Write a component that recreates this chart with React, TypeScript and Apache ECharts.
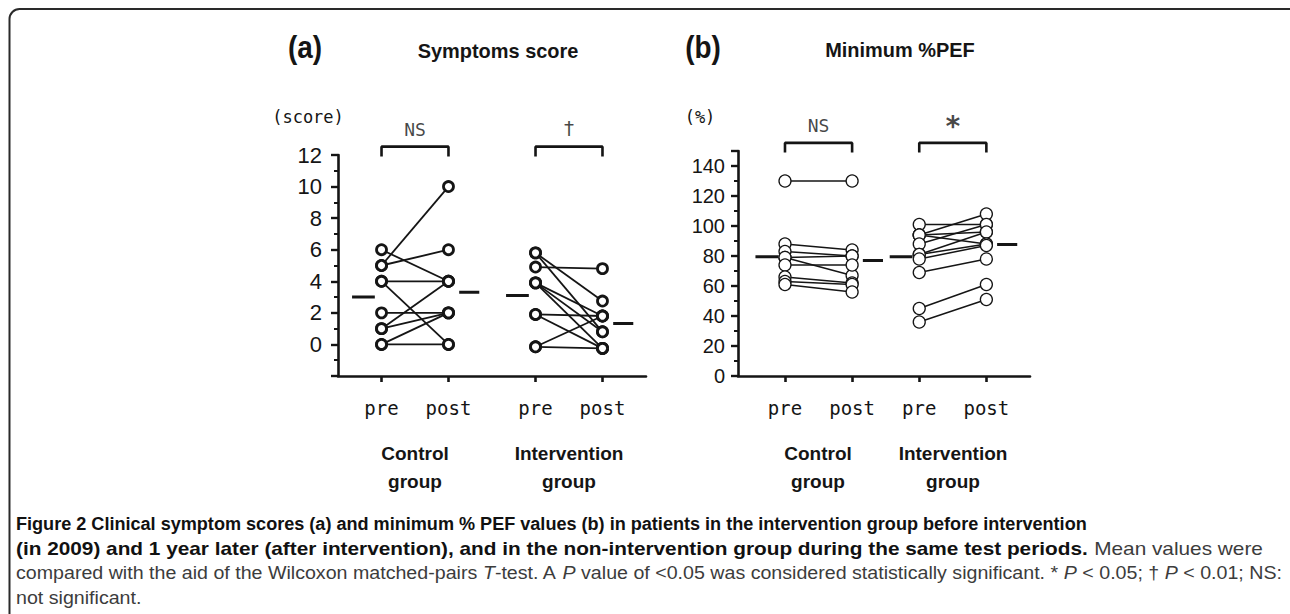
import React, { useEffect, useRef } from "react";
import * as echarts from "echarts";

// ---------- data ----------
const phaseLabels = ["pre", "post", "pre", "post"];
const groupLabels = ["Control\ngroup", "Intervention\ngroup"];

// (a) Symptoms score: paired values per patient (pre -> post)
const scoreCtrlPre = [5, 5, 6, 4, 4, 2, 1, 1, 0, 0];
const scoreCtrlPost = [10, 6, 4, 4, 0, 2, 4, 2, 2, 0];
const scoreIntPre = [4.9, 5.8, 5.8, 3.9, 3.9, 3.9, 1.9, 1.9, -0.15, -0.15];
const scoreIntPost = [4.8, 2.75, 0.8, 1.8, 0.8, -0.25, 1.8, -0.25, 1.8, -0.25];
const scoreMeans = [3.0, 3.3, 3.1, 1.33]; // ctrl pre, ctrl post, int pre, int post
const scoreSig = ["NS", "†"];

// (b) Minimum %PEF
const pefCtrlPre = [130, 88, 83, 79, 79, 74, 66, 63, 61];
const pefCtrlPost = [130, 84, 80, 80, 67, 74, 62, 61, 56];
const pefIntPre = [101, 94, 94, 94, 88, 81, 81, 78, 69, 45, 36];
const pefIntPost = [101, 108, 88, 96, 101, 96, 88, 87, 78, 61, 51];
const pefMeans = [79.5, 77, 79.5, 87.7];
const pefSig = ["NS", "*"];

const captionLines = [
  [{ t: "Figure 2 Clinical symptom scores (a) and minimum % PEF values (b) in patients in the intervention group before intervention", s: "b" }],
  [
    { t: "(in 2009) and 1 year later (after intervention), and in the non-intervention group during the same test periods.", s: "b" },
    { t: " Mean values were", s: "n" },
  ],
  [
    { t: "compared with the aid of the Wilcoxon matched-pairs ", s: "n" },
    { t: "T", s: "i" },
    { t: "-test. A ", s: "n" },
    { t: "P", s: "i" },
    { t: " value of <0.05 was considered statistically significant. * ", s: "n" },
    { t: "P", s: "i" },
    { t: " < 0.05; † ", s: "n" },
    { t: "P", s: "i" },
    { t: " < 0.01; NS:", s: "n" },
  ],
  [{ t: "not significant.", s: "n" }],
];

// ---------- layout constants ----------
const SCORE_POS = [1, 2, 3.3, 4.3];
const PEF_POS = [1, 2, 3, 4];
const INK = "#151515";
const MONO = "'DejaVu Sans Mono', 'Liberation Mono', monospace";
const SANS = "'Liberation Sans', Arial, sans-serif";
const CAP_FONT = "'Liberation Sans', sans-serif";

function buildPanel(
  idx: number,
  pos: number[],
  ctrlPre: number[],
  ctrlPost: number[],
  intPre: number[],
  intPost: number[],
  means: number[],
  sig: string[],
  bracketLow: number,
  bracketHigh: number,
  st: { lw: number; sym: number; bw: number; sigSize: number[]; sigDist: number[] }
) {
  const series: any[] = [];
  const groups: [number[], number[], number, number][] = [
    [ctrlPre, ctrlPost, pos[0], pos[1]],
    [intPre, intPost, pos[2], pos[3]],
  ];
  const common = { xAxisIndex: idx, yAxisIndex: idx, silent: true, animation: false };
  groups.forEach(([pre, post, xa, xb]) => {
    pre.forEach((v, i) => {
      series.push({
        ...common,
        type: "line",
        data: [
          [xa, v],
          [xb, post[i]],
        ],
        symbol: "none",
        lineStyle: { color: INK, width: st.lw },
        z: 2,
      });
    });
  });
  const pts: number[][] = [];
  groups.forEach(([pre, post, xa, xb]) => {
    pre.forEach((v) => pts.push([xa, v]));
    post.forEach((v) => pts.push([xb, v]));
  });
  series.push({
    ...common,
    type: "scatter",
    data: pts,
    symbol: "circle",
    symbolSize: st.sym,
    itemStyle: { color: "#ffffff", borderColor: INK, borderWidth: st.bw, opacity: 1 },
    z: 4,
  });
  means.forEach((m, k) => {
    const x = pos[k];
    const xs = k % 2 === 0 ? [x - 0.44, x - 0.1] : [x + 0.16, x + 0.46];
    series.push({
      ...common,
      type: "line",
      data: [
        [xs[0], m],
        [xs[1], m],
      ],
      symbol: "none",
      lineStyle: { color: INK, width: 3 },
      z: 3,
    });
  });
  [0, 1].forEach((g) => {
    const xa = pos[2 * g];
    const xb = pos[2 * g + 1];
    series.push({
      ...common,
      type: "line",
      clip: false,
      data: [
        [xa, bracketLow],
        [xa, bracketHigh],
        [xb, bracketHigh],
        [xb, bracketLow],
      ],
      symbol: "none",
      lineStyle: { color: INK, width: 2.6 },
      z: 3,
    });
    series.push({
      ...common,
      type: "scatter",
      clip: false,
      data: [[(xa + xb) / 2, bracketHigh]],
      symbolSize: 1,
      itemStyle: { color: "rgba(0,0,0,0)" },
      label: {
        show: true,
        position: "top",
        distance: st.sigDist[g],
        formatter: sig[g],
        fontFamily: MONO,
        fontSize: st.sigSize[g],
        fontWeight: g === 1 && idx === 1 ? "bold" : "normal",
        color: INK,
      },
      z: 5,
    });
  });
  return series;
}

function xAxisFor(idx: number, pos: number[], min: number, max: number) {
  return {
    type: "value",
    gridIndex: idx,
    min,
    max,
    axisLine: { show: true, onZero: false, lineStyle: { color: INK, width: 2.6 } },
    axisTick: { show: true, customValues: pos, length: 6, lineStyle: { color: INK, width: 2.6 } },
    axisLabel: {
      show: true,
      customValues: pos,
      margin: 22,
      fontFamily: MONO,
      fontSize: 19,
      color: INK,
      formatter: (v: number) => {
        const i = pos.findIndex((p) => Math.abs(p - v) < 1e-6);
        return i >= 0 ? phaseLabels[i] : "";
      },
    },
    splitLine: { show: false },
  };
}

function captionGraphics(ctx: CanvasRenderingContext2D) {
  const size = 18.5;
  const fontOf = (s: string) =>
    `${s === "i" ? "italic " : ""}${s === "b" ? "bold " : ""}${size}px ${CAP_FONT}`;
  const x0 = 16;
  const ys = [523, 548, 573, 598];
  const targets = [1072, 1247, 1266, 0];
  const out: any[] = [];
  let lastScale = 1;
  captionLines.forEach((segs, li) => {
    let cx = 0;
    const children: any[] = [];
    segs.forEach((seg) => {
      ctx.font = fontOf(seg.s);
      const w = ctx.measureText(seg.t).width;
      children.push({
        type: "text",
        x: cx,
        y: 0,
        style: {
          text: seg.t,
          font: fontOf(seg.s),
          fill: seg.s === "b" ? "#111111" : "#3c3c3c",
          textAlign: "left",
          textVerticalAlign: "middle",
          align: "left",
          verticalAlign: "middle",
        },
      });
      cx += w;
    });
    const scale = targets[li] > 0 ? targets[li] / cx : lastScale;
    lastScale = scale;
    out.push({ type: "group", x: x0, y: ys[li], scaleX: scale, children });
  });
  return out;
}

function txt(x: number, y: number, text: string, font: string, lineHeight?: number, scaleX = 1) {
  return {
    type: "text",
    x,
    y,
    scaleX,
    style: {
      text,
      font,
      fill: INK,
      textAlign: "center",
      textVerticalAlign: "middle",
      align: "center",
      verticalAlign: "middle",
      lineHeight,
    },
  };
}

export default function App() {
  const ref = useRef<HTMLDivElement>(null);
  useEffect(() => {
    if (!ref.current) return;
    const chart = echarts.init(ref.current, undefined, { renderer: "svg" });
    const canvas = document.createElement("canvas");
    const ctx = canvas.getContext("2d") as CanvasRenderingContext2D;

    const series = [
      ...buildPanel(0, SCORE_POS, scoreCtrlPre, scoreCtrlPost, scoreIntPre, scoreIntPost, scoreMeans, scoreSig, 11.9, 12.53, {
        lw: 1.8,
        sym: 10,
        bw: 2.8,
        sigSize: [18, 20],
        sigDist: [8, 8],
      }),
      ...buildPanel(1, PEF_POS, pefCtrlPre, pefCtrlPost, pefIntPre, pefIntPost, pefMeans, pefSig, 149, 155.4, {
        lw: 1.5,
        sym: 12,
        bw: 1.3,
        sigSize: [18, 28],
        sigDist: [8, 2],
      }),
    ];

    const option: any = {
      animation: false,
      backgroundColor: "#ffffff",
      grid: [
        { left: 338, top: 155, width: 308, height: 221, containLabel: false },
        { left: 738, top: 151, width: 292, height: 225, containLabel: false },
      ],
      xAxis: [xAxisFor(0, SCORE_POS, 0.35, 4.95), xAxisFor(1, PEF_POS, 0.3, 4.65)],
      yAxis: [
        {
          type: "value",
          gridIndex: 0,
          min: -2,
          max: 12,
          interval: 2,
          axisLine: { show: true, onZero: false, lineStyle: { color: INK, width: 2.6 } },
          axisTick: { show: true, length: 7, lineStyle: { color: INK, width: 2.4 } },
          minorTick: { show: true, splitNumber: 2, length: 4, lineStyle: { color: INK, width: 2 } },
          splitLine: { show: false },
          minorSplitLine: { show: false },
          axisLabel: {
            margin: 16,
            fontFamily: SANS,
            fontSize: 22,
            color: INK,
            formatter: (v: number) => (v < 0 ? "" : String(v)),
          },
        },
        {
          type: "value",
          gridIndex: 1,
          min: 0,
          max: 150,
          interval: 20,
          axisLine: { show: true, onZero: false, lineStyle: { color: INK, width: 2.6 } },
          axisTick: { show: true, length: 7, lineStyle: { color: INK, width: 2.4 } },
          minorTick: { show: true, splitNumber: 2, length: 4, lineStyle: { color: INK, width: 2 } },
          splitLine: { show: false },
          minorSplitLine: { show: false },
          axisLabel: {
            margin: 13,
            fontFamily: SANS,
            fontSize: 20,
            color: INK,
            formatter: (v: number) => (v > 140 ? "" : String(v)),
          },
        },
      ],
      series,
      graphic: [
        {
          type: "rect",
          shape: { x: 9.5, y: 9, width: 1290, height: 700, r: 10 },
          style: { fill: "none", stroke: "#2a2a2a", lineWidth: 2 },
          silent: true,
        },
        txt(305, 47, "(a)", `bold 31px ${SANS}`, undefined, 0.9),
        txt(498, 50, "Symptoms score", `bold 21px ${SANS}`, undefined, 0.95),
        txt(703, 47, "(b)", `bold 31px ${SANS}`, undefined, 0.9),
        txt(900, 49, "Minimum %PEF", `bold 21px ${SANS}`, undefined, 0.95),
        txt(308, 117, "(score)", `17px ${MONO}`),
        txt(700, 117, "(%)", `17px ${MONO}`),
        txt(415, 467, groupLabels[0], `bold 19px ${SANS}`, 28),
        txt(569, 467, groupLabels[1], `bold 19px ${SANS}`, 28),
        txt(818, 467, groupLabels[0], `bold 19px ${SANS}`, 28),
        txt(953, 467, groupLabels[1], `bold 19px ${SANS}`, 28),
        ...captionGraphics(ctx),
      ],
    };
    chart.setOption(option);
    return () => chart.dispose();
  }, []);
  return (
    <div
      ref={ref}
      style={{ position: "fixed", left: 0, top: 0, width: 1290, height: 614, background: "#fff" }}
    />
  );
}
